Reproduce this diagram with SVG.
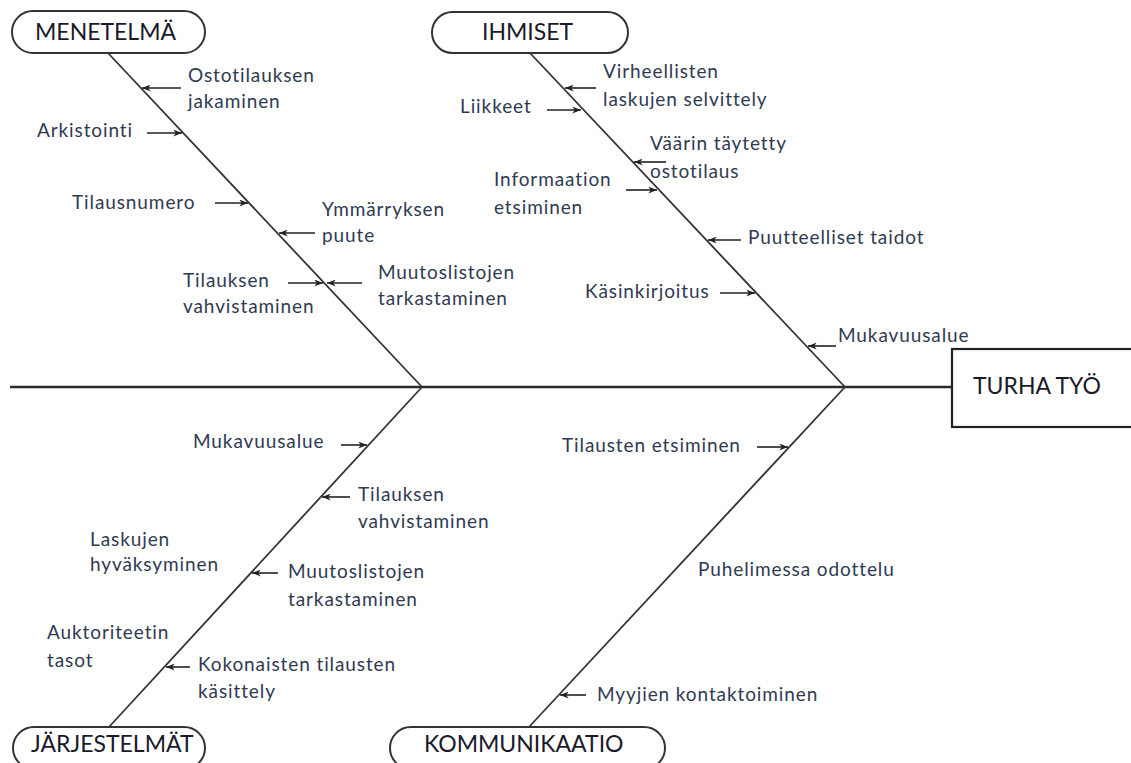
<svg xmlns="http://www.w3.org/2000/svg" width="1131" height="763" viewBox="0 0 1131 763">
<defs>
<marker id="ah" viewBox="0 0 10 8" refX="10" refY="4" markerWidth="9" markerHeight="7" orient="auto" markerUnits="userSpaceOnUse"><path d="M0,0 L10,4 L0,8 L3,4 z" fill="#222"/></marker>
</defs>
<style>
.pill{fill:#fff;stroke:#333;stroke-width:2}
.box{fill:#fff;stroke:#222;stroke-width:2.2}
.title{font-family:Lato,"Liberation Sans",sans-serif;font-size:23px;fill:#1a1a2a}
.lbl{font-family:Lato,"Liberation Sans",sans-serif;font-size:19px;letter-spacing:0.9px;fill:#2f3a52}
.bone{stroke:#333;stroke-width:1.8;fill:none}
.spine{stroke:#2a2a2a;stroke-width:2.4;fill:none}
.arr{stroke:#222;stroke-width:1.6;fill:none;marker-end:url(#ah)}
</style>
<rect width="1131" height="763" fill="#fff"/>
<g id="connectors">
<line class="spine" x1="10" y1="387" x2="952" y2="387"/>
<line class="bone" x1="108" y1="53" x2="422" y2="387"/>
<line class="bone" x1="530" y1="53" x2="845" y2="387"/>
<line class="bone" x1="422" y1="387" x2="109" y2="727"/>
<line class="bone" x1="845" y1="387" x2="529" y2="727"/>
<line class="arr" x1="181" y1="88" x2="142" y2="88"/>
<line class="arr" x1="147" y1="133" x2="182" y2="133"/>
<line class="arr" x1="215" y1="203" x2="248" y2="203"/>
<line class="arr" x1="315" y1="233" x2="279" y2="233"/>
<line class="arr" x1="288" y1="283" x2="323" y2="283"/>
<line class="arr" x1="362" y1="283" x2="327" y2="283"/>
<line class="arr" x1="596" y1="88" x2="565" y2="88"/>
<line class="arr" x1="547" y1="110" x2="581" y2="110"/>
<line class="arr" x1="666" y1="162" x2="634" y2="162"/>
<line class="arr" x1="626" y1="190" x2="657" y2="190"/>
<line class="arr" x1="741" y1="240" x2="708" y2="240"/>
<line class="arr" x1="720" y1="293" x2="755" y2="293"/>
<line class="arr" x1="836" y1="346" x2="808" y2="346"/>
<line class="arr" x1="341" y1="445" x2="367" y2="445"/>
<line class="arr" x1="350" y1="497" x2="322" y2="497"/>
<line class="arr" x1="278" y1="573" x2="252" y2="573"/>
<line class="arr" x1="190" y1="667" x2="166" y2="667"/>
<line class="arr" x1="757" y1="447" x2="788" y2="447"/>
<line class="arr" x1="586" y1="695" x2="560" y2="695"/>
</g>
<g id="menetelma"><rect class="pill" x="12" y="11" width="193" height="42" rx="21"/><text class="title" x="35" y="40">MENETELMÄ</text></g>
<g id="ihmiset"><rect class="pill" x="432" y="12" width="196" height="41" rx="20.5"/><text class="title" x="482" y="40">IHMISET</text></g>
<g id="jarjestelmat"><rect class="pill" x="13" y="727" width="192" height="42" rx="21"/><text class="title" x="31" y="752">JÄRJESTELMÄT</text></g>
<g id="kommunikaatio"><rect class="pill" x="390" y="727" width="275" height="42" rx="21"/><text class="title" x="424" y="752">KOMMUNIKAATIO</text></g>
<g id="turha-tyo"><rect class="box" x="952" y="349" width="181" height="78"/><text class="title" x="973" y="394">TURHA TYÖ</text></g>
<g id="c-ostotilauksen"><text class="lbl" x="188" y="82">Ostotilauksen</text><text class="lbl" x="188" y="108">jakaminen</text></g>
<g id="c-arkistointi"><text class="lbl" x="37" y="137">Arkistointi</text></g>
<g id="c-tilausnumero"><text class="lbl" x="72" y="209">Tilausnumero</text></g>
<g id="c-ymmarryksen"><text class="lbl" x="322" y="216">Ymmärryksen</text><text class="lbl" x="322" y="242">puute</text></g>
<g id="c-tilauksen1"><text class="lbl" x="183" y="287">Tilauksen</text><text class="lbl" x="183" y="313">vahvistaminen</text></g>
<g id="c-muutos1"><text class="lbl" x="378" y="279">Muutoslistojen</text><text class="lbl" x="378" y="305">tarkastaminen</text></g>
<g id="c-virheellisten"><text class="lbl" x="603" y="78">Virheellisten</text><text class="lbl" x="603" y="106">laskujen selvittely</text></g>
<g id="c-liikkeet"><text class="lbl" x="460" y="113">Liikkeet</text></g>
<g id="c-vaarin"><text class="lbl" x="650" y="150">Väärin täytetty</text><text class="lbl" x="650" y="178">ostotilaus</text></g>
<g id="c-informaation"><text class="lbl" x="494" y="186">Informaation</text><text class="lbl" x="494" y="214">etsiminen</text></g>
<g id="c-puutteelliset"><text class="lbl" x="748" y="244">Puutteelliset taidot</text></g>
<g id="c-kasinkirjoitus"><text class="lbl" x="585" y="298">Käsinkirjoitus</text></g>
<g id="c-mukavuus1"><text class="lbl" x="838" y="342">Mukavuusalue</text></g>
<g id="c-mukavuus2"><text class="lbl" x="193" y="448">Mukavuusalue</text></g>
<g id="c-tilauksen2"><text class="lbl" x="358" y="501">Tilauksen</text><text class="lbl" x="358" y="528">vahvistaminen</text></g>
<g id="c-laskujen"><text class="lbl" x="90" y="546">Laskujen</text><text class="lbl" x="90" y="571">hyväksyminen</text></g>
<g id="c-muutos2"><text class="lbl" x="288" y="578">Muutoslistojen</text><text class="lbl" x="288" y="606">tarkastaminen</text></g>
<g id="c-auktoriteetin"><text class="lbl" x="47" y="639">Auktoriteetin</text><text class="lbl" x="47" y="667">tasot</text></g>
<g id="c-kokonaisten"><text class="lbl" x="198" y="671">Kokonaisten tilausten</text><text class="lbl" x="198" y="698">käsittely</text></g>
<g id="c-tilausten"><text class="lbl" x="562" y="452">Tilausten etsiminen</text></g>
<g id="c-puhelimessa"><text class="lbl" x="698" y="576">Puhelimessa odottelu</text></g>
<g id="c-myyjien"><text class="lbl" x="597" y="701">Myyjien kontaktoiminen</text></g>
</svg>
